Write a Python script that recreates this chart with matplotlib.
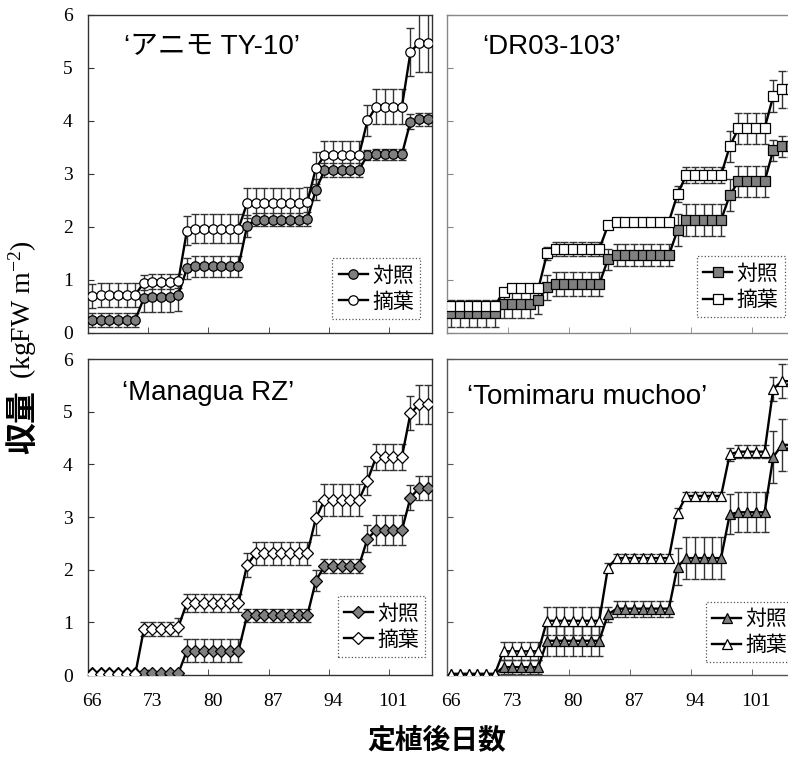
import matplotlib
matplotlib.use('Agg')
import matplotlib.pyplot as plt

plt.rcParams['mathtext.default'] = 'regular'
CJK = 'Noto Sans CJK JP'
SANS = ['Liberation Sans', 'Noto Sans CJK JP']
SERIF = 'Liberation Serif'

days = list(range(66, 106))
label_days = [66, 73, 80, 87, 94, 101]
bounds = [72.5, 79.5, 86.5, 93.5, 100.5]
legend_labels = ['対照', '摘葉']

# 'アニモ TY-10'
anemo_ctrl = [0.25, 0.25, 0.25, 0.25, 0.25, 0.25, 0.66, 0.67, 0.67, 0.67, 0.72,
              1.22, 1.26, 1.26, 1.26, 1.26, 1.26, 1.26, 2.02, 2.14, 2.14, 2.14, 2.14, 2.14, 2.14, 2.15,
              2.70, 3.07, 3.07, 3.07, 3.07, 3.07, 3.36, 3.37, 3.37, 3.37, 3.37, 3.99, 4.03, 4.03]
anemo_ctrl_err = [0.13, 0.13, 0.13, 0.13, 0.13, 0.13, 0.27, 0.27, 0.27, 0.27, 0.30,
                  0.20, 0.20, 0.20, 0.20, 0.20, 0.20, 0.20, 0.20, 0.13, 0.13, 0.13, 0.13, 0.13, 0.13, 0.13,
                  0.20, 0.13, 0.13, 0.13, 0.13, 0.13, 0.10, 0.10, 0.10, 0.10, 0.10, 0.15, 0.12, 0.12]
anemo_trt = [0.70, 0.72, 0.72, 0.72, 0.72, 0.72, 0.95, 0.97, 0.97, 0.97, 0.98,
             1.93, 1.97, 1.97, 1.97, 1.97, 1.97, 1.97, 2.45, 2.45, 2.45, 2.45, 2.45, 2.45, 2.45, 2.47,
             3.11, 3.35, 3.35, 3.35, 3.35, 3.35, 4.01, 4.27, 4.27, 4.27, 4.27, 5.30, 5.48, 5.48]
anemo_trt_err = [0.23, 0.23, 0.23, 0.23, 0.23, 0.23, 0.14, 0.14, 0.14, 0.14, 0.14,
                 0.27, 0.27, 0.27, 0.27, 0.27, 0.27, 0.27, 0.28, 0.28, 0.28, 0.28, 0.28, 0.28, 0.28, 0.28,
                 0.30, 0.27, 0.27, 0.27, 0.27, 0.27, 0.30, 0.33, 0.33, 0.33, 0.33, 0.45, 0.55, 0.55]

# 'DR03-103'
dr_ctrl = [0.37, 0.37, 0.37, 0.37, 0.37, 0.37, 0.55, 0.55, 0.55, 0.55, 0.62,
           0.86, 0.92, 0.92, 0.92, 0.92, 0.92, 0.92, 1.39, 1.47, 1.47, 1.47, 1.47, 1.47, 1.47, 1.47,
           1.94, 2.13, 2.13, 2.13, 2.13, 2.13, 2.60, 2.86, 2.86, 2.86, 2.86, 3.45, 3.52, 3.52]
dr_ctrl_err = [0.25, 0.25, 0.25, 0.25, 0.25, 0.25, 0.27, 0.27, 0.27, 0.27, 0.27,
               0.23, 0.23, 0.23, 0.23, 0.23, 0.23, 0.23, 0.20, 0.20, 0.20, 0.20, 0.20, 0.20, 0.20, 0.20,
               0.30, 0.30, 0.30, 0.30, 0.30, 0.30, 0.30, 0.30, 0.30, 0.30, 0.30, 0.20, 0.20, 0.20]
dr_trt = [0.51, 0.51, 0.51, 0.51, 0.51, 0.51, 0.78, 0.84, 0.84, 0.84, 0.84,
          1.50, 1.58, 1.58, 1.58, 1.58, 1.58, 1.58, 2.03, 2.10, 2.10, 2.10, 2.10, 2.10, 2.10, 2.10,
          2.62, 2.98, 2.98, 2.98, 2.98, 2.98, 3.52, 3.86, 3.86, 3.86, 3.86, 4.47, 4.60, 4.60]
dr_trt_err = [0.08, 0.08, 0.08, 0.08, 0.08, 0.08, 0.06, 0.06, 0.06, 0.06, 0.06,
              0.13, 0.13, 0.13, 0.13, 0.13, 0.13, 0.13, 0.07, 0.07, 0.07, 0.07, 0.07, 0.07, 0.07, 0.07,
              0.15, 0.15, 0.15, 0.15, 0.15, 0.15, 0.30, 0.30, 0.30, 0.30, 0.30, 0.30, 0.35, 0.35]

# 'Managua RZ'
managua_ctrl = [0.03, 0.03, 0.03, 0.03, 0.03, 0.03, 0.03, 0.03, 0.03, 0.03, 0.03,
                0.46, 0.46, 0.46, 0.46, 0.46, 0.46, 0.46, 1.13, 1.13, 1.13, 1.13, 1.13, 1.13, 1.13, 1.13,
                1.79, 2.07, 2.07, 2.07, 2.07, 2.07, 2.59, 2.75, 2.75, 2.75, 2.75, 3.37, 3.55, 3.55]
managua_ctrl_err = [0, 0, 0, 0, 0, 0, 0, 0, 0, 0, 0,
                    0.22, 0.22, 0.22, 0.22, 0.22, 0.22, 0.22, 0.13, 0.13, 0.13, 0.13, 0.13, 0.13, 0.13, 0.13,
                    0.20, 0.14, 0.14, 0.14, 0.14, 0.14, 0.25, 0.28, 0.28, 0.28, 0.28, 0.23, 0.23, 0.23]
managua_trt = [0.02, 0.02, 0.02, 0.02, 0.02, 0.02, 0.87, 0.87, 0.87, 0.87, 0.91,
               1.37, 1.37, 1.37, 1.37, 1.37, 1.37, 1.37, 2.09, 2.31, 2.31, 2.31, 2.31, 2.31, 2.31, 2.31,
               2.98, 3.32, 3.32, 3.32, 3.32, 3.32, 3.69, 4.14, 4.14, 4.14, 4.14, 4.97, 5.14, 5.14]
managua_trt_err = [0, 0, 0, 0, 0, 0, 0.13, 0.13, 0.13, 0.13, 0.17,
                   0.17, 0.17, 0.17, 0.17, 0.17, 0.17, 0.17, 0.22, 0.22, 0.22, 0.22, 0.22, 0.22, 0.22, 0.22,
                   0.32, 0.30, 0.30, 0.30, 0.30, 0.30, 0.28, 0.25, 0.25, 0.25, 0.25, 0.32, 0.37, 0.37]

# 'Tomimaru muchoo'
tomi_ctrl = [0.02, 0.02, 0.02, 0.02, 0.02, 0.02, 0.15, 0.15, 0.15, 0.15, 0.15,
             0.65, 0.65, 0.65, 0.65, 0.65, 0.65, 0.65, 1.15, 1.26, 1.26, 1.26, 1.26, 1.26, 1.26, 1.26,
             2.06, 2.22, 2.22, 2.22, 2.22, 2.22, 3.05, 3.09, 3.09, 3.09, 3.09, 4.14, 4.37, 4.37]
tomi_ctrl_err = [0, 0, 0, 0, 0, 0, 0.13, 0.13, 0.13, 0.13, 0.13,
                 0.28, 0.28, 0.28, 0.28, 0.28, 0.28, 0.28, 0.15, 0.15, 0.15, 0.15, 0.15, 0.15, 0.15, 0.15,
                 0.35, 0.40, 0.40, 0.40, 0.40, 0.40, 0.38, 0.38, 0.38, 0.38, 0.38, 0.50, 0.50, 0.50]
tomi_trt = [0.02, 0.02, 0.02, 0.02, 0.02, 0.02, 0.45, 0.45, 0.45, 0.45, 0.45,
            1.03, 1.03, 1.03, 1.03, 1.03, 1.03, 1.03, 2.04, 2.22, 2.22, 2.22, 2.22, 2.22, 2.22, 2.22,
            3.08, 3.40, 3.40, 3.40, 3.40, 3.40, 4.19, 4.24, 4.24, 4.24, 4.24, 5.43, 5.58, 5.58]
tomi_trt_err = [0, 0, 0, 0, 0, 0, 0.17, 0.17, 0.17, 0.17, 0.17,
                0.27, 0.27, 0.27, 0.27, 0.27, 0.27, 0.27, 0.08, 0.08, 0.08, 0.08, 0.08, 0.08, 0.08, 0.08,
                0.10, 0.07, 0.07, 0.07, 0.07, 0.07, 0.12, 0.12, 0.12, 0.12, 0.12, 0.22, 0.32, 0.32]


def draw_panel(ax, title, title_xy, ctrl, ctrl_err, trt, trt_err, marker, ms,
               leg_anchor, left, bottom, spine_col):
    for vals, err in [(ctrl, ctrl_err), (trt, trt_err)]:
        ax.errorbar(days, vals, yerr=err, fmt='none', ecolor='#333333',
                    elinewidth=1.0, capsize=3, capthick=1.0, zorder=2)
    h1, = ax.plot(days, ctrl, color='black', lw=1.7, marker=marker, ms=ms,
                  mfc='#7f7f7f', mec='black', mew=0.9, zorder=3)
    h2, = ax.plot(days, trt, color='black', lw=1.7, marker=marker, ms=ms,
                  mfc='white', mec='black', mew=0.9, zorder=4)

    ax.set_xlim(65.5, 105.5)
    ax.set_ylim(0, 6)
    ax.set_yticks(range(0, 7))
    ax.set_xticks(label_days)
    ax.set_xticks(bounds, minor=True)
    ax.tick_params(axis='x', which='major', length=0, pad=13)
    ax.tick_params(axis='x', which='minor', direction='in', length=4, color=spine_col)
    ax.tick_params(axis='y', direction='in', length=4, pad=11, color=spine_col)
    for lab in ax.get_xticklabels() + ax.get_yticklabels():
        lab.set_fontfamily(SERIF)
        lab.set_fontsize(14)
    if not left:
        ax.set_yticklabels([])
    if not bottom:
        ax.set_xticklabels([])
    for sp in ax.spines.values():
        sp.set_color(spine_col)
        sp.set_linewidth(1.0)

    ax.text(title_xy[0], title_xy[1], title, transform=ax.transAxes,
            family=SANS, fontsize=20, ha='left', va='center')

    leg = ax.legend([h1, h2], legend_labels, loc='lower right', bbox_to_anchor=leg_anchor,
                    fancybox=False, edgecolor='#555555', framealpha=1,
                    prop={'family': CJK, 'size': 15}, handlelength=1.4,
                    handletextpad=0.2, borderpad=0.3, labelspacing=0.2, borderaxespad=0)
    leg.get_frame().set_linestyle(':')
    leg.get_frame().set_linewidth(0.9)


fig = plt.figure(figsize=(7.88, 7.58), dpi=100)
W, H = 788, 758

ax1 = fig.add_axes([88 / W, 1 - 333 / H, 344 / W, 318 / H])
ax2 = fig.add_axes([447 / W, 1 - 333 / H, 348 / W, 318 / H])
ax3 = fig.add_axes([88 / W, 1 - 675 / H, 344 / W, 316 / H])
ax4 = fig.add_axes([447 / W, 1 - 675 / H, 348 / W, 316 / H])

draw_panel(ax1, '‘アニモ TY-10’', (0.105, 0.9), anemo_ctrl, anemo_ctrl_err,
           anemo_trt, anemo_trt_err, 'o', 6.8, (0.965, 0.044), True, False, '#333333')
draw_panel(ax2, '‘DR03-103’', (0.1, 0.9), dr_ctrl, dr_ctrl_err,
           dr_trt, dr_trt_err, 's', 6.5, (0.97, 0.05), False, False, '#888888')
draw_panel(ax3, '‘Managua RZ’', (0.1, 0.892), managua_ctrl, managua_ctrl_err,
           managua_trt, managua_trt_err, 'D', 5.8, (0.98, 0.057), True, True, '#333333')
draw_panel(ax4, '‘Tomimaru muchoo’', (0.058, 0.88), tomi_ctrl, tomi_ctrl_err,
           tomi_trt, tomi_trt_err, '^', 6.8, (0.995, 0.04), False, True, '#555555')

fig.text(23 / W, 1 - 422 / H, '収量', rotation=90, family=CJK, weight='bold',
         fontsize=23, ha='center', va='center')
fig.text(23 / W, 1 - 310 / H, '(kgFW m$^{-2}$)', rotation=90, family=SERIF,
         fontsize=20, ha='center', va='center')
fig.text(437 / W, 1 - 740 / H, '定植後日数', family=CJK, weight='bold',
         fontsize=20, ha='center', va='center')

fig.savefig('out.png', dpi=100)
